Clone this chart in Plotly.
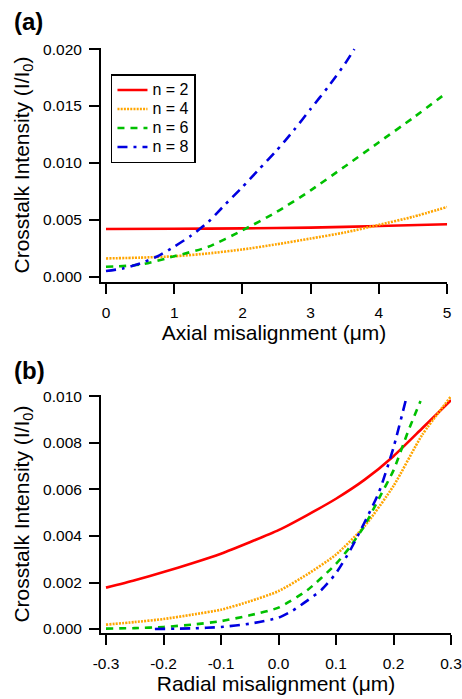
import plotly.graph_objects as go

# ---------------- Panel (a): axial misalignment ----------------
AX_X_RED = [0, 1, 2, 3, 4, 5]
AX_Y_RED = [0.00420, 0.00422, 0.00425, 0.00432, 0.00446, 0.00462]

AX_X_N4 = [0, 0.5, 1, 1.5, 2, 2.5, 3, 3.5, 4, 4.5, 5]
AX_Y_N4 = [0.00161, 0.00168, 0.00180, 0.00205, 0.00240, 0.00285, 0.00336,
           0.00389, 0.00456, 0.00527, 0.00613]

AX_X_N6 = [0, 0.5, 1, 1.5, 2, 2.5, 3, 3.5, 4, 4.5, 5]
AX_Y_N6 = [0.00088, 0.00106, 0.00180, 0.00263, 0.00408, 0.00569, 0.00759,
           0.00969, 0.01182, 0.01396, 0.01620]

AX_X_N8 = [0, 0.25, 0.5, 0.75, 1, 1.25, 1.5, 1.75, 2, 2.25, 2.5, 2.75,
           3, 3.25, 3.5, 3.64]
AX_Y_N8 = [0.00050, 0.00073, 0.00117, 0.00178, 0.00265, 0.00362, 0.00482,
           0.00637, 0.00788, 0.00949, 0.01109, 0.01285, 0.01475, 0.01664,
           0.01869, 0.02000]

AX_XTICKS = [0, 1, 2, 3, 4, 5]
AX_YTICKS = [0.000, 0.005, 0.010, 0.015, 0.020]

# ---------------- Panel (b): radial misalignment ----------------
RA_X_N2 = [-0.3, -0.25, -0.2, -0.15, -0.1, -0.05, 0, 0.05, 0.1, 0.15, 0.2, 0.25, 0.3]
RA_Y_N2 = [0.00178, 0.00210, 0.00245, 0.00283, 0.00324, 0.00373, 0.00425,
           0.00490, 0.00560, 0.00642, 0.00743, 0.00863, 0.00984]

RA_X_N4 = [-0.3, -0.25, -0.2, -0.15, -0.1, -0.05, 0, 0.05, 0.1, 0.15, 0.2, 0.25, 0.3]
RA_Y_N4 = [0.00019, 0.00030, 0.00043, 0.00062, 0.00083, 0.00119, 0.00163,
           0.00235, 0.00320, 0.00443, 0.00615, 0.00835, 0.01000]

RA_X_N6 = [-0.3, -0.25, -0.2, -0.15, -0.1, -0.05, 0, 0.05, 0.1, 0.125, 0.15,
           0.175, 0.2, 0.225, 0.247]
RA_Y_N6 = [0.00002, 0.00004, 0.00009, 0.00019, 0.00034, 0.00059, 0.00092,
           0.00167, 0.00280, 0.00355, 0.00446, 0.00563, 0.00682, 0.00847, 0.00980]

RA_X_N8 = [-0.215, -0.15, -0.1, -0.05, 0, 0.025, 0.05, 0.075, 0.1, 0.125,
           0.15, 0.175, 0.2, 0.222]
RA_Y_N8 = [0.00000, 0.00003, 0.00009, 0.00023, 0.00049, 0.00080, 0.00122,
           0.00169, 0.00240, 0.00340, 0.00460, 0.00590, 0.00780, 0.00990]

RA_XTICKS = [-0.3, -0.2, -0.1, 0.0, 0.1, 0.2, 0.3]
RA_XTICK_LABELS = ["-0.3", "-0.2", "-0.1", "0.0", "0.1", "0.2", "0.3"]
RA_YTICKS = [0.000, 0.002, 0.004, 0.006, 0.008, 0.010]

NAMES = ["n = 2", "n = 4", "n = 6", "n = 8"]
COLORS = ["#ff0000", "#ffa500", "#00c000", "#0000e0"]
DASHES = ["solid", "2px,1.2px", "7px,6px", "10px,6px,3px,6px"]
WIDTHS = [2.6, 2.6, 2.6, 2.6]

FONT = "Liberation Sans, Arial, Helvetica, sans-serif"

fig = go.Figure()

a_data = [(AX_X_RED, AX_Y_RED), (AX_X_N4, AX_Y_N4), (AX_X_N6, AX_Y_N6), (AX_X_N8, AX_Y_N8)]
b_data = [(RA_X_N2, RA_Y_N2), (RA_X_N4, RA_Y_N4), (RA_X_N6, RA_Y_N6), (RA_X_N8, RA_Y_N8)]

for i, (xs, ys) in enumerate(a_data):
    fig.add_trace(go.Scatter(x=xs, y=ys, mode="lines",
                             name='<span style="font-size:16px">%s</span>' % NAMES[i],
                             line=dict(color=COLORS[i], width=WIDTHS[i], dash=DASHES[i],
                                       shape="spline", smoothing=0.6),
                             xaxis="x", yaxis="y", showlegend=True))
for i, (xs, ys) in enumerate(b_data):
    fig.add_trace(go.Scatter(x=xs, y=ys, mode="lines", name=NAMES[i],
                             line=dict(color=COLORS[i], width=WIDTHS[i], dash=DASHES[i],
                                       shape="spline", smoothing=0.6),
                             xaxis="x2", yaxis="y2", showlegend=False))

axis_common = dict(showline=True, linecolor="black", linewidth=2,
                   ticks="outside", ticklen=10, tickwidth=1.7, tickcolor="black",
                   showgrid=False, zeroline=False, automargin=False,
                   tickfont=dict(size=15.5, color="black", family=FONT),
                   title_font=dict(size=21, color="black", family=FONT))

YTITLE = "Crosstalk Intensity (I/I<sub>0</sub>)"

fig.update_layout(
    width=462, height=699,
    margin=dict(l=101, r=10.5, t=48, b=66.3),
    paper_bgcolor="white", plot_bgcolor="white",
    font=dict(family=FONT, color="black"),
    xaxis=dict(domain=[0, 0.989], anchor="y", range=[-0.073, 5.0],
               tickvals=AX_XTICKS, tickformat="d", ticklabelstandoff=5,
               title=dict(text="Axial misalignment (μm)", standoff=5),
               **axis_common),
    yaxis=dict(domain=[0.6, 1.0], anchor="x", range=[-0.00046, 0.0201],
               tickvals=AX_YTICKS, tickformat=".3f", ticklabelstandoff=4,
               title=dict(text=YTITLE, standoff=8),
               **axis_common),
    xaxis2=dict(domain=[0, 1.0], anchor="y2", range=[-0.3087, 0.3],
                tickvals=RA_XTICKS, ticktext=RA_XTICK_LABELS, ticklabelstandoff=5,
                title=dict(text="Radial misalignment (μm)", standoff=5),
                **axis_common),
    yaxis2=dict(domain=[0.0, 0.4065], anchor="x2", range=[-0.00017, 0.01005],
                tickvals=RA_YTICKS, tickformat=".3f", ticklabelstandoff=4,
                title=dict(text=YTITLE, standoff=8),
                **axis_common),
    legend=dict(x=0.0285, y=0.9555, xanchor="left", yanchor="top",
                bgcolor="white", bordercolor="black", borderwidth=1.5,
                font=dict(size=12, color="black", family=FONT),
                tracegroupgap=0, itemwidth=30),
    annotations=[
        dict(text="<b>(a)</b>", x=-0.254, y=1.0445, xref="paper", yref="paper",
             xanchor="left", yanchor="middle", showarrow=False,
             font=dict(size=24, color="black", family=FONT)),
        dict(text="<b>(b)</b>", x=-0.254, y=0.4493, xref="paper", yref="paper",
             xanchor="left", yanchor="middle", showarrow=False,
             font=dict(size=24, color="black", family=FONT)),
    ],
)

fig.write_html(
    "out.html",
    config={"displayModeBar": False},
    post_script="document.body.style.margin='0';document.body.style.overflow='hidden';",
)
